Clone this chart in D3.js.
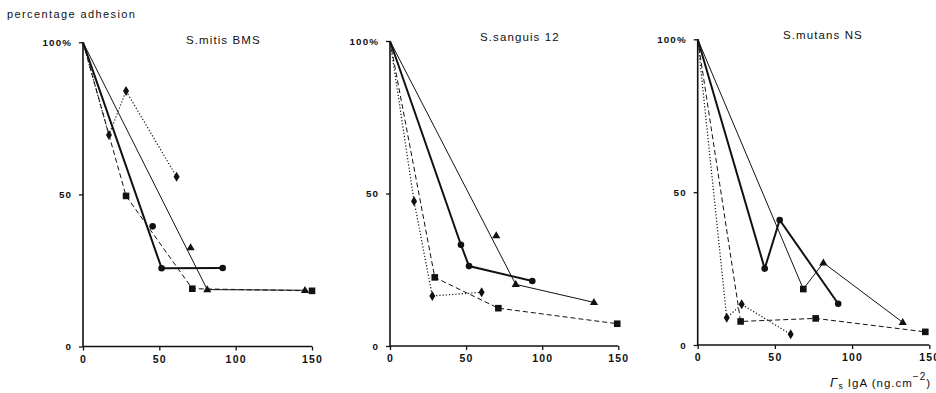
<!DOCTYPE html>
<html><head><meta charset="utf-8">
<script src="https://cdn.jsdelivr.net/npm/d3@7"></script>
<style>
body{margin:0;background:#fff;}
svg{display:block;}
text{font-family:"Liberation Sans",Arial,sans-serif;fill:#111;}
</style></head>
<body>
<svg id="chart" width="936" height="393"></svg>
<script>
// ---------- data ----------
const panelTitles = ["S.mitis BMS", "S.sanguis 12", "S.mutans NS"];
const xTicks = [0, 50, 100, 150];
const yTicks = [0, 50, 100];
const yTickLabels = ["0", "50", "100%"];
const yAxisTitle = "percentage adhesion";

// S.mitis BMS
const mitisCircleLine = [[0,100],[51.5,25.7],[91.5,25.8]];
const mitisCirclePts = [[45.6,39.5],[51.5,25.7],[91.5,25.8]];
const mitisSquareLine = [[0,100],[28.2,49.5],[71.6,19],[150,18.3]];
const mitisSquarePts = [[28.2,49.5],[71.6,19],[150,18.3]];
const mitisTriangleLine = [[0,100],[81.4,18.7],[145.4,18.5]];
const mitisTrianglePts = [[70.5,32.5],[81.4,18.7],[145.4,18.5]];
const mitisDiamondLine = [[0,100],[17,69.5],[28.2,84],[61.3,55.8]];
const mitisDiamondPts = [[17,69.5],[28.2,84],[61.3,55.8]];

// S.sanguis 12
const sanguisCircleLine = [[0,100],[46.6,33.2],[51.9,26.2],[93.5,21.3]];
const sanguisCirclePts = [[46.6,33.2],[51.9,26.2],[93.5,21.3]];
const sanguisSquareLine = [[0,100],[29.4,22.5],[71.2,12.4],[149.3,7.3]];
const sanguisSquarePts = [[29.4,22.5],[71.2,12.4],[149.3,7.3]];
const sanguisTriangleLine = [[0,100],[82.6,20.2],[134,14.3]];
const sanguisTrianglePts = [[69.8,36.2],[82.6,20.2],[134,14.3]];
const sanguisDiamondLine = [[0,100],[15.8,47.5],[27.8,16.4],[60.2,17.6]];
const sanguisDiamondPts = [[15.8,47.5],[27.8,16.4],[60.2,17.6]];

// S.mutans NS
const mutansCircleLine = [[0,100],[43.4,25],[53.1,40.9],[91,13.5]];
const mutansCirclePts = [[43.4,25],[53.1,40.9],[91,13.5]];
const mutansSquareLine = [[0,100],[27.8,7.7],[76.4,8.7],[147.4,4.3]];
const mutansSquarePts = [[27.8,7.7],[76.4,8.7],[147.4,4.3],[68.4,18.3]];
const mutansTriangleLine = [[0,100],[68.4,18.3],[81.4,26.9],[132.8,7.4]];
const mutansTrianglePts = [[81.4,26.9],[132.8,7.4]];
const mutansDiamondLine = [[0,100],[18.8,8.9],[28.5,13.3],[60.2,3.5]];
const mutansDiamondPts = [[18.8,8.9],[28.5,13.3],[60.2,3.5]];

const panelData = [
  {circle:[mitisCircleLine,mitisCirclePts], square:[mitisSquareLine,mitisSquarePts], triangle:[mitisTriangleLine,mitisTrianglePts], diamond:[mitisDiamondLine,mitisDiamondPts]},
  {circle:[sanguisCircleLine,sanguisCirclePts], square:[sanguisSquareLine,sanguisSquarePts], triangle:[sanguisTriangleLine,sanguisTrianglePts], diamond:[sanguisDiamondLine,sanguisDiamondPts]},
  {circle:[mutansCircleLine,mutansCirclePts], square:[mutansSquareLine,mutansSquarePts], triangle:[mutansTriangleLine,mutansTrianglePts], diamond:[mutansDiamondLine,mutansDiamondPts]}
];

// ---------- layout ----------
const layout = [
  {x0:83,   x1:312,   y0:346.5, y1:42.3, tx:186, ty:44},
  {x0:390,  x1:618.3, y0:346,   y1:41,   tx:480, ty:41},
  {x0:697.7,x1:929.3, y0:345,   y1:39.3, tx:783, ty:39}
];
const styles = {
  circle:  {w:2,   dash:null},
  square:  {w:1,   dash:"5,3"},
  triangle:{w:1,   dash:null},
  diamond: {w:1.2, dash:"1.2,2"}
};

const svg = d3.select("#chart");
const ink = "#111";

svg.append("text").attr("x",7).attr("y",18).attr("font-size",11)
  .attr("letter-spacing","1.4px").text(yAxisTitle);

function marker(g, type, pts, x, y){
  const sel = g.selectAll("."+type).data(pts).enter();
  if(type==="circle"){
    sel.append("circle").attr("cx",d=>x(d[0])).attr("cy",d=>y(d[1])).attr("r",3.3).attr("fill",ink);
  } else if(type==="square"){
    sel.append("rect").attr("x",d=>x(d[0])-3.3).attr("y",d=>y(d[1])-3.3).attr("width",6.6).attr("height",6.6).attr("fill",ink);
  } else if(type==="triangle"){
    sel.append("path").attr("transform",d=>`translate(${x(d[0])},${y(d[1])})`)
      .attr("d","M0,-4.3L4.1,2.7L-4.1,2.7Z").attr("fill",ink);
  } else {
    sel.append("path").attr("transform",d=>`translate(${x(d[0])},${y(d[1])})`)
      .attr("d","M0,-5L3,0L0,5L-3,0Z").attr("fill",ink);
  }
}

layout.forEach((L,i)=>{
  const x = d3.scaleLinear().domain([0,150]).range([L.x0,L.x1]);
  const y = d3.scaleLinear().domain([0,100]).range([L.y0,L.y1]);
  const g = svg.append("g");

  // axes
  const xa = g.append("g").attr("transform",`translate(0,${L.y0})`)
    .call(d3.axisBottom(x).tickValues(xTicks).tickSize(4).tickPadding(5).tickFormat(d3.format("d")));
  const ya = g.append("g").attr("transform",`translate(${L.x0},0)`)
    .call(d3.axisLeft(y).tickValues(yTicks).tickSize(4).tickPadding(7).tickFormat((d,k)=>yTickLabels[k]));
  [xa,ya].forEach(a=>{
    a.select(".domain").attr("stroke",ink).attr("stroke-width",1.6);
    a.selectAll(".tick line").attr("stroke",ink).attr("stroke-width",1.3);
    a.selectAll(".tick text").attr("font-weight","bold").attr("fill",ink)
      .attr("font-family","'Liberation Sans',Arial,sans-serif");
  });
  xa.selectAll(".tick text").attr("font-size",10.5).attr("letter-spacing","1.2px");
  ya.selectAll(".tick text").attr("font-size",9.8).attr("letter-spacing","1.1px");
  xa.select(".domain").attr("d",`M${L.x0},0H${L.x1}`);
  ya.select(".domain").attr("d",`M0,${L.y0}V${L.y1}`);

  g.append("text").attr("x",L.tx).attr("y",L.ty).attr("font-size",11.5)
    .attr("letter-spacing","1.1px").text(panelTitles[i]);

  const line = d3.line().x(d=>x(d[0])).y(d=>y(d[1]));
  const D = panelData[i];
  ["square","diamond","triangle","circle"].forEach(t=>{
    g.append("path").datum(D[t][0]).attr("d",line).attr("fill","none")
      .attr("stroke",ink).attr("stroke-width",styles[t].w)
      .attr("stroke-dasharray",styles[t].dash);
  });
  ["square","diamond","triangle","circle"].forEach(t=>marker(g,t,D[t][1],x,y));
});

// x axis title
const xt = svg.append("text").attr("x",830).attr("y",387).attr("font-size",11.5).attr("letter-spacing","1px");
xt.append("tspan").attr("font-style","italic").attr("font-size",13).text("Γ");
xt.append("tspan").attr("font-size",8.5).attr("dy",2).text("s");
xt.append("tspan").attr("dy",-2).text(" IgA  (ng.cm");
xt.append("tspan").attr("font-size",10).attr("dy",-7).text("−2");
xt.append("tspan").attr("dy",7).text(")");
</script>
</body></html>
